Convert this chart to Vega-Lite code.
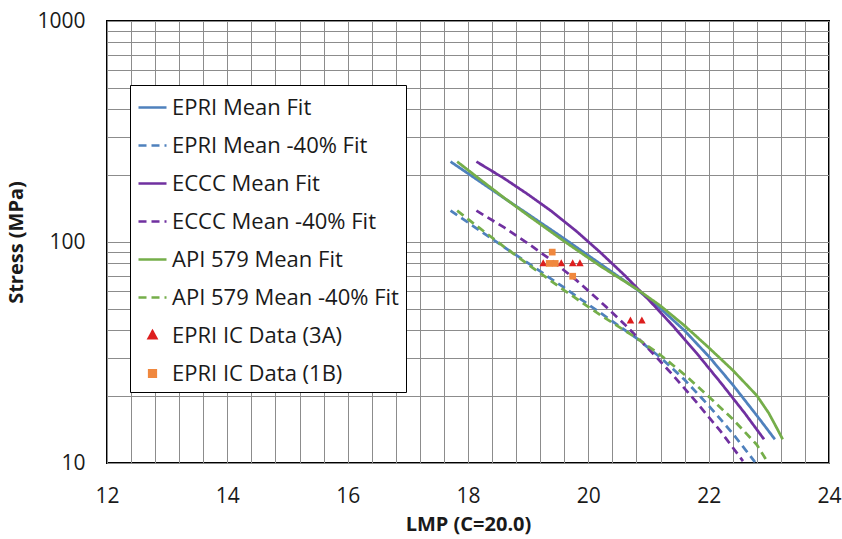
{
  "$schema": "https://vega.github.io/schema/vega-lite/v6.json",
  "width": 722,
  "height": 442,
  "autosize": {"type": "none"},
  "padding": {"left": 107, "top": 21, "right": 13, "bottom": 76},
  "background": "white",
  "config": {
    "font": "Open Sans",
    "view": {"stroke": "black", "strokeWidth": 2},
    "axis": {
      "grid": true, "gridColor": "#8c8c8c", "gridWidth": 1, "ticks": false, "domain": false,
      "labelFont": "Open Sans", "labelFontSize": 21, "labelColor": "#1a1a1a", "labelOverlap": false, "labelBound": false, "labelFlush": false,
      "titleFont": "Open Sans", "titleFontSize": 20, "titleFontWeight": "bold", "titleColor": "#1a1a1a"
    }
  },
  "datasets": {
    "fits": [
      {"series": "EPRI Mean Fit", "lmp": 17.71, "stress": 231},
      {"series": "EPRI Mean Fit", "lmp": 18.2, "stress": 187.5},
      {"series": "EPRI Mean Fit", "lmp": 18.6, "stress": 158},
      {"series": "EPRI Mean Fit", "lmp": 19.0, "stress": 133.6},
      {"series": "EPRI Mean Fit", "lmp": 19.6, "stress": 103.5},
      {"series": "EPRI Mean Fit", "lmp": 20.2, "stress": 79.6},
      {"series": "EPRI Mean Fit", "lmp": 20.8, "stress": 61.2},
      {"series": "EPRI Mean Fit", "lmp": 21.2, "stress": 50.0},
      {"series": "EPRI Mean Fit", "lmp": 21.6, "stress": 39.7},
      {"series": "EPRI Mean Fit", "lmp": 22.0, "stress": 30.4},
      {"series": "EPRI Mean Fit", "lmp": 22.4, "stress": 22.6},
      {"series": "EPRI Mean Fit", "lmp": 22.8, "stress": 16.4},
      {"series": "EPRI Mean Fit", "lmp": 22.95, "stress": 14.5},
      {"series": "EPRI Mean Fit", "lmp": 23.1, "stress": 12.8},
      {"series": "EPRI Mean -40% Fit", "lmp": 17.71, "stress": 138.6},
      {"series": "EPRI Mean -40% Fit", "lmp": 18.2, "stress": 112.5},
      {"series": "EPRI Mean -40% Fit", "lmp": 18.6, "stress": 94.8},
      {"series": "EPRI Mean -40% Fit", "lmp": 19.0, "stress": 80.2},
      {"series": "EPRI Mean -40% Fit", "lmp": 19.6, "stress": 62.1},
      {"series": "EPRI Mean -40% Fit", "lmp": 20.2, "stress": 47.8},
      {"series": "EPRI Mean -40% Fit", "lmp": 20.8, "stress": 36.7},
      {"series": "EPRI Mean -40% Fit", "lmp": 21.2, "stress": 30.0},
      {"series": "EPRI Mean -40% Fit", "lmp": 21.6, "stress": 23.8},
      {"series": "EPRI Mean -40% Fit", "lmp": 22.0, "stress": 18.2},
      {"series": "EPRI Mean -40% Fit", "lmp": 22.4, "stress": 13.6},
      {"series": "EPRI Mean -40% Fit", "lmp": 22.77, "stress": 10.1},
      {"series": "ECCC Mean Fit", "lmp": 18.14, "stress": 231},
      {"series": "ECCC Mean Fit", "lmp": 18.6, "stress": 194},
      {"series": "ECCC Mean Fit", "lmp": 19.0, "stress": 164},
      {"series": "ECCC Mean Fit", "lmp": 19.4, "stress": 137},
      {"series": "ECCC Mean Fit", "lmp": 19.8, "stress": 112},
      {"series": "ECCC Mean Fit", "lmp": 20.2, "stress": 89.7},
      {"series": "ECCC Mean Fit", "lmp": 20.6, "stress": 70.8},
      {"series": "ECCC Mean Fit", "lmp": 21.0, "stress": 54.9},
      {"series": "ECCC Mean Fit", "lmp": 21.4, "stress": 41.9},
      {"series": "ECCC Mean Fit", "lmp": 21.8, "stress": 31.4},
      {"series": "ECCC Mean Fit", "lmp": 22.2, "stress": 23.1},
      {"series": "ECCC Mean Fit", "lmp": 22.6, "stress": 16.8},
      {"series": "ECCC Mean Fit", "lmp": 22.92, "stress": 12.8},
      {"series": "ECCC Mean -40% Fit", "lmp": 18.14, "stress": 138.6},
      {"series": "ECCC Mean -40% Fit", "lmp": 18.6, "stress": 116.4},
      {"series": "ECCC Mean -40% Fit", "lmp": 19.0, "stress": 98.4},
      {"series": "ECCC Mean -40% Fit", "lmp": 19.4, "stress": 82.2},
      {"series": "ECCC Mean -40% Fit", "lmp": 19.8, "stress": 67.2},
      {"series": "ECCC Mean -40% Fit", "lmp": 20.2, "stress": 53.8},
      {"series": "ECCC Mean -40% Fit", "lmp": 20.6, "stress": 42.5},
      {"series": "ECCC Mean -40% Fit", "lmp": 21.0, "stress": 32.9},
      {"series": "ECCC Mean -40% Fit", "lmp": 21.4, "stress": 25.1},
      {"series": "ECCC Mean -40% Fit", "lmp": 21.8, "stress": 18.8},
      {"series": "ECCC Mean -40% Fit", "lmp": 22.2, "stress": 13.9},
      {"series": "ECCC Mean -40% Fit", "lmp": 22.57, "stress": 10.2},
      {"series": "API 579 Mean Fit", "lmp": 17.82, "stress": 231},
      {"series": "API 579 Mean Fit", "lmp": 18.2, "stress": 192},
      {"series": "API 579 Mean Fit", "lmp": 18.6, "stress": 158.5},
      {"series": "API 579 Mean Fit", "lmp": 19.0, "stress": 131.8},
      {"series": "API 579 Mean Fit", "lmp": 19.6, "stress": 100.7},
      {"series": "API 579 Mean Fit", "lmp": 20.2, "stress": 77.8},
      {"series": "API 579 Mean Fit", "lmp": 20.8, "stress": 61.4},
      {"series": "API 579 Mean Fit", "lmp": 21.2, "stress": 51.4},
      {"series": "API 579 Mean Fit", "lmp": 21.6, "stress": 41.8},
      {"series": "API 579 Mean Fit", "lmp": 22.0, "stress": 33.3},
      {"series": "API 579 Mean Fit", "lmp": 22.4, "stress": 26.3},
      {"series": "API 579 Mean Fit", "lmp": 22.8, "stress": 20.2},
      {"series": "API 579 Mean Fit", "lmp": 23.0, "stress": 16.8},
      {"series": "API 579 Mean Fit", "lmp": 23.15, "stress": 14.1},
      {"series": "API 579 Mean Fit", "lmp": 23.23, "stress": 12.8},
      {"series": "API 579 Mean -40% Fit", "lmp": 17.82, "stress": 138.6},
      {"series": "API 579 Mean -40% Fit", "lmp": 18.2, "stress": 115.2},
      {"series": "API 579 Mean -40% Fit", "lmp": 18.6, "stress": 95.1},
      {"series": "API 579 Mean -40% Fit", "lmp": 19.0, "stress": 79.1},
      {"series": "API 579 Mean -40% Fit", "lmp": 19.6, "stress": 60.4},
      {"series": "API 579 Mean -40% Fit", "lmp": 20.2, "stress": 46.7},
      {"series": "API 579 Mean -40% Fit", "lmp": 20.8, "stress": 36.8},
      {"series": "API 579 Mean -40% Fit", "lmp": 21.2, "stress": 30.8},
      {"series": "API 579 Mean -40% Fit", "lmp": 21.6, "stress": 25.1},
      {"series": "API 579 Mean -40% Fit", "lmp": 22.0, "stress": 20.0},
      {"series": "API 579 Mean -40% Fit", "lmp": 22.4, "stress": 15.8},
      {"series": "API 579 Mean -40% Fit", "lmp": 22.8, "stress": 12.1},
      {"series": "API 579 Mean -40% Fit", "lmp": 22.96, "stress": 10.3}
    ],
    "ic": [
      {"series": "EPRI IC Data (3A)", "lmp": 19.25, "stress": 80},
      {"series": "EPRI IC Data (3A)", "lmp": 19.55, "stress": 80},
      {"series": "EPRI IC Data (3A)", "lmp": 19.74, "stress": 80},
      {"series": "EPRI IC Data (3A)", "lmp": 19.86, "stress": 80},
      {"series": "EPRI IC Data (3A)", "lmp": 20.7, "stress": 44},
      {"series": "EPRI IC Data (3A)", "lmp": 20.89, "stress": 44},
      {"series": "EPRI IC Data (1B)", "lmp": 19.4, "stress": 90},
      {"series": "EPRI IC Data (1B)", "lmp": 19.35, "stress": 80},
      {"series": "EPRI IC Data (1B)", "lmp": 19.45, "stress": 80},
      {"series": "EPRI IC Data (1B)", "lmp": 19.74, "stress": 70}
    ]
  },
  "encoding": {
    "x": {
      "field": "lmp", "type": "quantitative",
      "scale": {"domain": [12, 24], "nice": false, "zero": false},
      "axis": {
        "title": "LMP (C=20.0)",
        "values": [12, 12.4, 12.8, 13.2, 13.6, 14, 14.4, 14.8, 15.2, 15.6, 16, 16.4, 16.8, 17.2, 17.6, 18, 18.4, 18.8, 19.2, 19.6, 20, 20.4, 20.8, 21.2, 21.6, 22, 22.4, 22.8, 23.2, 23.6, 24],
        "labelExpr": "(datum.value % 2 == 0) ? format(datum.value, 'd') : ''",
        "labelPadding": 22,
        "titlePadding": 8
      }
    },
    "y": {
      "field": "stress", "type": "quantitative",
      "scale": {"type": "log", "domain": [10, 1000], "nice": false},
      "axis": {
        "title": "Stress (MPa)",
        "values": [10, 20, 30, 40, 50, 60, 70, 80, 90, 100, 200, 300, 400, 500, 600, 700, 800, 900, 1000],
        "labelExpr": "indexof([10, 100, 1000], datum.value) >= 0 ? datum.label : ''",
        "format": "d",
        "labelPadding": 22,
        "titlePadding": 10
      }
    },
    "color": {
      "field": "series", "type": "nominal",
      "scale": {
        "domain": ["EPRI Mean Fit", "EPRI Mean -40% Fit", "ECCC Mean Fit", "ECCC Mean -40% Fit", "API 579 Mean Fit", "API 579 Mean -40% Fit", "EPRI IC Data (3A)", "EPRI IC Data (1B)"],
        "range": ["#4F81BD", "#4F81BD", "#7030A0", "#7030A0", "#75AE4A", "#75AE4A", "#DD1E1E", "#F0883E"]
      },
      "legend": {
        "title": null,
        "orient": "none",
        "legendX": 23,
        "legendY": 64,
        "padding": 7,
        "fillColor": "white",
        "strokeColor": "black",
        "labelFont": "Open Sans",
        "labelFontSize": 22,
        "labelColor": "#1a1a1a",
        "labelLimit": 400,
        "labelOffset": 4,
        "symbolSize": 784,
        "symbolStrokeWidth": 2.5,
        "rowPadding": 11
      }
    }
  },
  "layer": [
    {
      "data": {"name": "fits"},
      "mark": {"type": "line", "strokeWidth": 2.75, "clip": true},
      "encoding": {
        "strokeDash": {
          "field": "series", "type": "nominal",
          "scale": {
            "domain": ["EPRI Mean Fit", "EPRI Mean -40% Fit", "ECCC Mean Fit", "ECCC Mean -40% Fit", "API 579 Mean Fit", "API 579 Mean -40% Fit", "EPRI IC Data (3A)", "EPRI IC Data (1B)"],
            "range": [[1, 0], [8, 5], [1, 0], [8, 5], [1, 0], [8, 5], [1, 0], [1, 0]]
          },
          "legend": {"orient": "none", "title": null}
        }
      }
    },
    {
      "data": {"name": "ic"},
      "mark": {"type": "point", "filled": true, "size": 784, "opacity": 1, "clip": true},
      "encoding": {
        "shape": {
          "field": "series", "type": "nominal",
          "scale": {
            "domain": ["EPRI Mean Fit", "EPRI Mean -40% Fit", "ECCC Mean Fit", "ECCC Mean -40% Fit", "API 579 Mean Fit", "API 579 Mean -40% Fit", "EPRI IC Data (3A)", "EPRI IC Data (1B)"],
            "range": ["stroke", "stroke", "stroke", "stroke", "stroke", "stroke", "M0,-0.3L0.27,0.2L-0.27,0.2Z", "M-0.24,-0.24H0.24V0.24H-0.24Z"]
          },
          "legend": {"orient": "none", "title": null}
        }
      }
    }
  ]
}
